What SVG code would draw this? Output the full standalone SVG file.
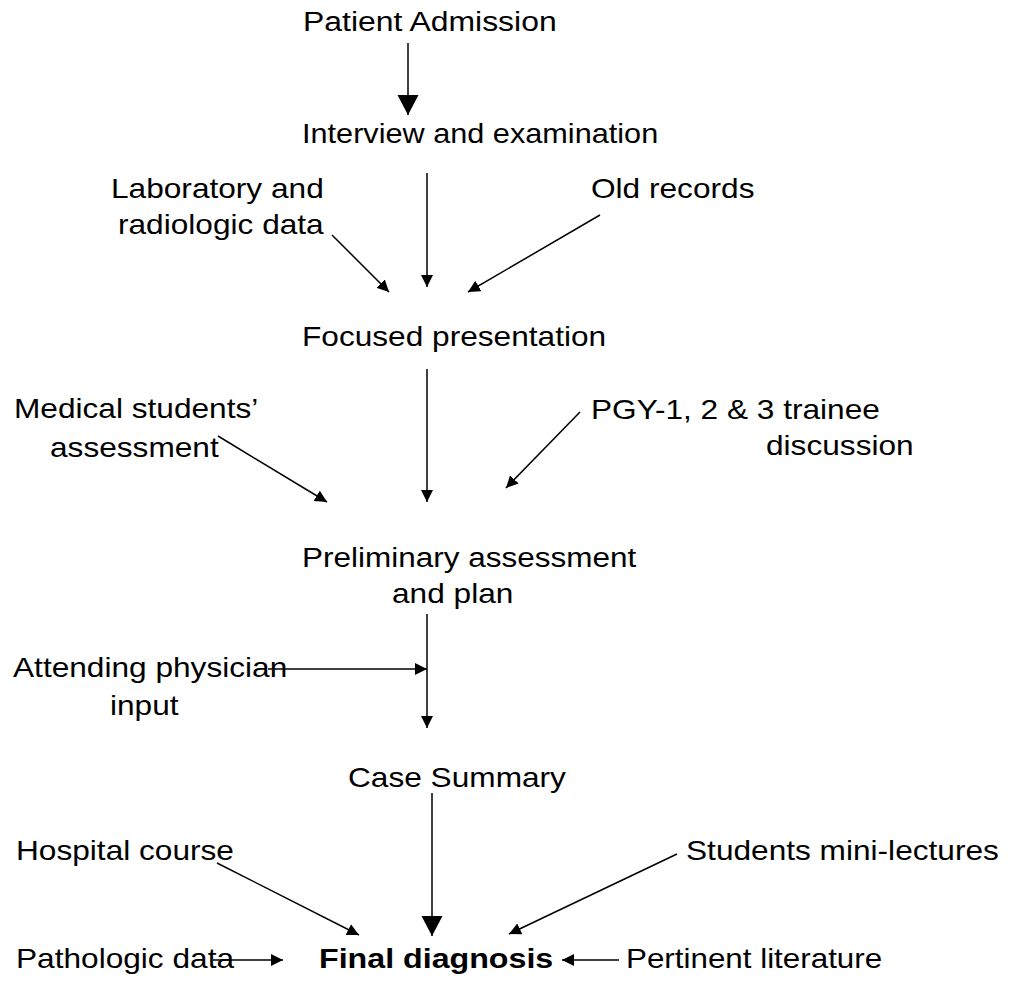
<svg xmlns="http://www.w3.org/2000/svg" width="1009" height="981" viewBox="0 0 1009 981">
<style>
.t{font-family:"Liberation Sans",Arial,sans-serif;font-size:28px;fill:#000}
.b{font-weight:bold}
.c line{stroke:#000;stroke-width:1.5;fill:none}
.s{marker-end:url(#sm)}
.g{marker-end:url(#bg)}
</style>
<defs>
<marker id="sm" markerUnits="userSpaceOnUse" markerWidth="13" markerHeight="13" refX="12" refY="6" orient="auto"><path d="M0,0 L12,6 L0,12 z" fill="#000"/></marker>
<marker id="bg" markerUnits="userSpaceOnUse" markerWidth="22" markerHeight="22" refX="20" refY="10.5" orient="auto"><path d="M0,0 L20,10.5 L0,21 z" fill="#000"/></marker>
</defs>
<rect width="1009" height="981" fill="#fff"/>
<g id="n-admission"><text class="t" transform="translate(303 31) scale(1.14 1)">Patient Admission</text></g>
<g id="n-interview"><text class="t" transform="translate(302 143) scale(1.095 1)">Interview and examination</text></g>
<g id="n-lab"><text class="t" transform="translate(111 198) scale(1.13 1)">Laboratory and</text><text class="t" transform="translate(118 234) scale(1.13 1)">radiologic data</text></g>
<g id="n-old"><text class="t" transform="translate(591 198) scale(1.13 1)">Old records</text></g>
<g id="n-focused"><text class="t" transform="translate(302 346) scale(1.13 1)">Focused presentation</text></g>
<g id="n-medical"><text class="t" transform="translate(14 418) scale(1.13 1)">Medical students’</text><text class="t" transform="translate(50 457) scale(1.13 1)">assessment</text></g>
<g id="n-pgy"><text class="t" transform="translate(591 419) scale(1.13 1)">PGY-1, 2 &amp; 3 trainee</text><text class="t" transform="translate(766 455) scale(1.13 1)">discussion</text></g>
<g id="n-prelim"><text class="t" transform="translate(302 567) scale(1.125 1)">Preliminary assessment</text><text class="t" transform="translate(392 603) scale(1.13 1)">and plan</text></g>
<g id="n-attending"><text class="t" transform="translate(13 677) scale(1.13 1)">Attending physician</text><text class="t" transform="translate(110 715) scale(1.13 1)">input</text></g>
<g id="n-case"><text class="t" transform="translate(348 787) scale(1.13 1)">Case Summary</text></g>
<g id="n-hospital"><text class="t" transform="translate(16 860) scale(1.13 1)">Hospital course</text></g>
<g id="n-students"><text class="t" transform="translate(686 860) scale(1.13 1)">Students mini-lectures</text></g>
<g id="n-pathologic"><text class="t" transform="translate(16 968) scale(1.13 1)">Pathologic data</text></g>
<g id="n-final"><text class="t b" transform="translate(319 968) scale(1.15 1)">Final diagnosis</text></g>
<g id="n-pertinent"><text class="t" transform="translate(626 968) scale(1.12 1)">Pertinent literature</text></g>
<g id="connectors" class="c">
<line class="g" x1="408" y1="43" x2="408" y2="115"/>
<line class="s" x1="427" y1="173" x2="427" y2="287"/>
<line class="s" x1="332" y1="235" x2="389" y2="292"/>
<line class="s" x1="600" y1="215" x2="468" y2="292"/>
<line class="s" x1="427" y1="369" x2="427" y2="502"/>
<line class="s" x1="218" y1="436" x2="327" y2="502"/>
<line class="s" x1="580" y1="412" x2="506" y2="488"/>
<line class="s" x1="427" y1="614" x2="427" y2="728"/>
<line class="s" x1="268" y1="669" x2="427" y2="669"/>
<line class="g" x1="432" y1="793" x2="432" y2="936"/>
<line class="s" x1="217" y1="863" x2="359" y2="935"/>
<line class="s" x1="677" y1="854" x2="509" y2="934"/>
<line class="s" x1="213" y1="960" x2="283" y2="960"/>
<line class="s" x1="619" y1="960" x2="562" y2="960"/>
</g>
</svg>
